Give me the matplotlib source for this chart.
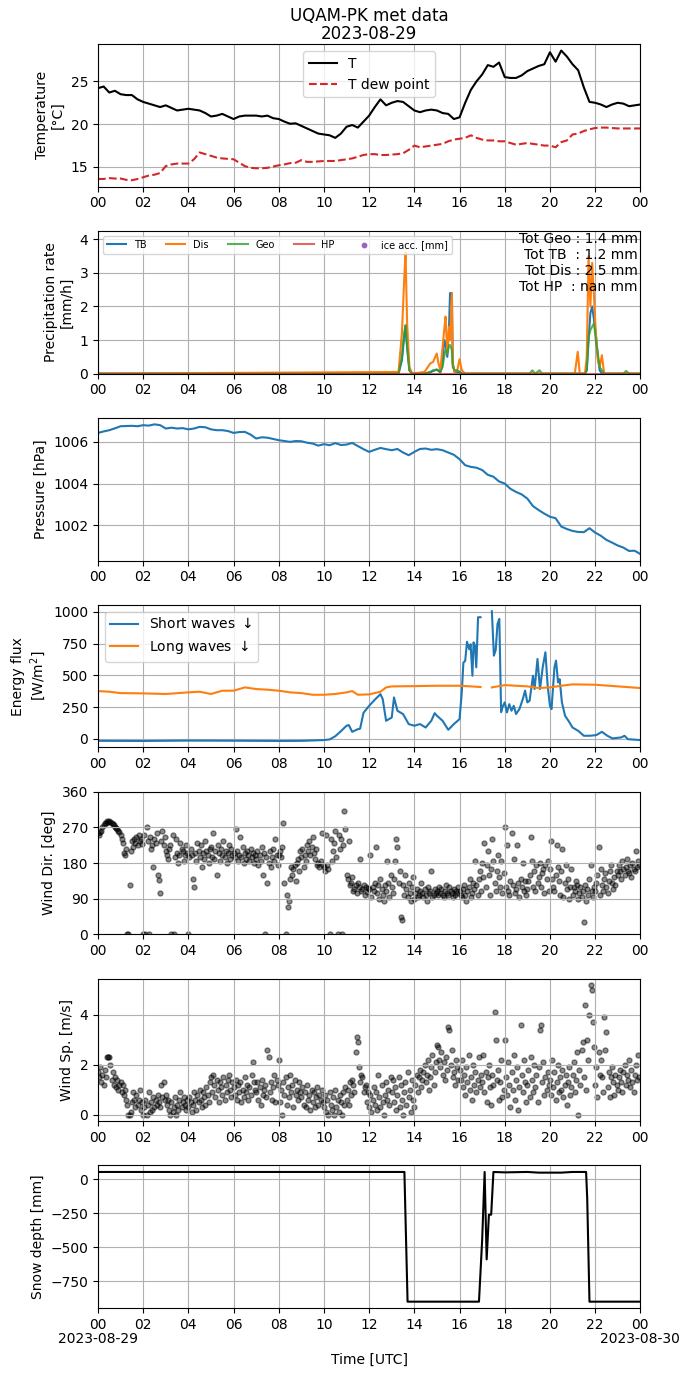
import matplotlib
matplotlib.use("Agg")
import matplotlib.pyplot as plt
import matplotlib.dates as mdates
import numpy as np
import pandas as pd

DAY = pd.Timestamp("2023-08-29")

# temperature / dew point, every 15 min
temp_c = [
    24.2, 24.4, 23.7, 23.9, 23.5, 23.4, 23.4, 22.9, 22.6, 22.4, 22.2, 22.0,
    22.2, 21.9, 21.6, 21.7, 21.8, 21.7, 21.6, 21.3, 20.9, 21.0, 21.2, 20.9,
    20.6, 20.9, 21.0, 21.0, 21.0, 20.9, 21.0, 20.7, 20.6, 20.3, 20.05, 20.1,
    19.8, 19.5, 19.2, 18.9, 18.8, 18.7, 18.4, 18.9, 19.7, 19.9, 19.6, 20.3,
    21.0, 22.0, 22.9, 22.2, 22.5, 22.7, 22.6, 22.1, 21.6, 21.4, 21.6, 21.7,
    21.6, 21.3, 21.2, 20.6, 20.8, 22.5, 24.0, 25.0, 25.8, 26.9, 26.7, 27.2,
    25.5, 25.4, 25.4, 25.7, 26.2, 26.5, 26.8, 27.0, 28.4, 27.3, 28.6, 27.9,
    27.0, 26.3, 24.3, 22.6, 22.5, 22.3, 22.0, 22.3, 22.5, 22.4, 22.1, 22.2,
    22.3,
]
dew_c = [
    13.6, 13.6, 13.7, 13.65, 13.65, 13.5, 13.45, 13.6, 13.8, 14.0, 14.1, 14.3,
    15.1, 15.3, 15.4, 15.4, 15.4, 15.9, 16.7, 16.5, 16.3, 16.1, 16.0, 15.95,
    15.9, 15.5, 15.1, 14.9, 14.85, 14.85, 14.9, 15.05, 15.2, 15.3, 15.45, 15.5,
    15.8, 15.6, 15.6, 15.65, 15.7, 15.7, 15.7, 15.8, 15.9, 16.0, 16.2, 16.4,
    16.5, 16.5, 16.4, 16.4, 16.45, 16.5, 16.6, 17.0, 17.5, 17.3, 17.4, 17.5,
    17.6, 17.7, 18.0, 18.2, 18.3, 18.4, 18.7, 18.4, 18.2, 18.1, 18.1, 18.0,
    18.0, 17.8, 17.6, 17.7, 17.8, 17.7, 17.6, 17.5, 17.5, 17.3, 17.9, 18.1,
    18.8, 18.9, 19.2, 19.4, 19.55, 19.6, 19.6, 19.55, 19.5, 19.5, 19.5, 19.5,
    19.5,
]
pressure_hpa = [
    1006.43, 1006.5, 1006.56, 1006.65, 1006.75, 1006.76, 1006.77, 1006.75,
    1006.8, 1006.78, 1006.84, 1006.8, 1006.64, 1006.68, 1006.64, 1006.66,
    1006.6, 1006.64, 1006.72, 1006.7, 1006.6, 1006.56, 1006.56, 1006.52,
    1006.43, 1006.47, 1006.48, 1006.35, 1006.16, 1006.22, 1006.2, 1006.14,
    1006.08, 1006.04, 1006.0, 1006.04, 1006.03, 1005.96, 1005.92, 1005.82,
    1005.89, 1005.84, 1005.94, 1005.85, 1005.87, 1005.95, 1005.8, 1005.65,
    1005.52, 1005.62, 1005.71, 1005.65, 1005.6, 1005.66, 1005.49, 1005.36,
    1005.52, 1005.66, 1005.68, 1005.62, 1005.65, 1005.6, 1005.49, 1005.38,
    1005.17, 1004.88, 1004.8, 1004.76, 1004.65, 1004.42, 1004.33, 1004.1,
    1004.0, 1003.75, 1003.6, 1003.48, 1003.28, 1002.92, 1002.73, 1002.56,
    1002.41, 1002.34, 1001.94, 1001.82, 1001.73, 1001.68, 1001.67, 1001.86,
    1001.65, 1001.5, 1001.3, 1001.17, 1001.03, 1000.93, 1000.77, 1000.78,
    1000.62,
]

# precipitation rate (mm/h)
precip_hours = [
    0.0, 13.30, 13.45, 13.55, 13.61, 13.68, 13.78, 13.90, 14.45, 14.70,
    14.83, 14.99, 15.07, 15.15, 15.25, 15.32, 15.38, 15.46, 15.54, 15.58,
    15.66, 15.70, 15.78, 15.90, 16.00, 16.10, 16.25, 19.10, 19.22, 19.35,
    19.54, 19.65, 21.10, 21.23, 21.32, 21.55, 21.63, 21.71, 21.79, 21.87,
    21.95, 22.03, 22.12, 22.20, 22.30, 22.40, 23.25, 23.37, 23.50, 24.0,
]
tb = [
    0, 0, 0.4, 1.1, 1.4, 0.8, 0.1, 0, 0, 0.04,
    0.08, 0.12, 0.08, 0.04, 0.3, 1.0, 0.9, 0.5, 1.5, 2.4,
    2.4, 0.3, 0.05, 0.05, 0.05, 0, 0, 0, 0, 0,
    0, 0, 0, 0, 0, 0, 0.1, 1.0, 1.8, 2.0,
    1.6, 1.2, 0.5, 0.1, 0, 0, 0, 0, 0, 0,
]
dis = [
    0, 0.05, 1.2, 2.8, 3.6, 1.5, 0.2, 0, 0.05, 0.3,
    0.35, 0.6, 0.3, 0.1, 0.8, 1.3, 1.7, 0.6, 1.4, 1.0,
    2.4, 0.3, 0.05, 0.1, 0.43, 0.1, 0, 0, 0, 0,
    0, 0, 0, 0.65, 0, 0, 0.5, 3.5, 2.0, 3.3,
    2.3, 1.2, 0.4, 0.2, 0.55, 0, 0, 0, 0, 0,
]
geo = [
    0, 0, 0.5, 1.2, 1.45, 0.8, 0.1, 0, 0, 0.05,
    0.1, 0.12, 0.1, 0.05, 0.2, 0.5, 0.7, 0.6, 0.85, 0.85,
    0.7, 0.2, 0.1, 0.1, 0.05, 0, 0, 0, 0.1, 0,
    0.1, 0, 0, 0, 0, 0, 0.1, 1.1, 1.3, 1.4,
    1.5, 1.0, 0.6, 0.2, 0.1, 0, 0, 0.08, 0, 0,
]
hp = [0.0] * len(precip_hours)
totals_text = "Tot Geo : 1.4 mm\nTot TB  : 1.2 mm\nTot Dis : 2.5 mm\nTot HP  : nan mm"

# radiation (W/m2), nan = missing
sw_hours = [
    0, 2, 4, 6, 8, 9, 10, 10.25, 10.5, 10.75, 11.0, 11.1, 11.25, 11.5, 11.6,
    11.75, 12.0, 12.25, 12.5, 12.6, 12.75, 13.0, 13.1, 13.25, 13.5, 13.75,
    14.0, 14.25, 14.5, 14.75, 14.9, 15.0, 15.25, 15.5, 15.75, 16.0, 16.1,
    16.17, 16.25, 16.33, 16.43, 16.49, 16.57, 16.62, 16.68, 16.74, 16.82,
    16.93, 17.1, 17.43, 17.52, 17.6, 17.68, 17.76, 17.84, 17.9, 18.0, 18.1,
    18.2, 18.3, 18.4, 18.5, 18.65, 18.8, 18.9, 19.0, 19.1, 19.25, 19.32,
    19.45, 19.56, 19.68, 19.8, 19.9, 20.0, 20.07, 20.2, 20.27, 20.36, 20.43,
    20.53, 20.67, 20.82, 21.0, 21.25, 21.5, 21.76, 22.05, 22.3, 22.54, 22.77,
    23.16, 23.3, 23.45, 24.0,
]
sw = [
    -16, -17, -14, -15, -17, -16, -10, -5, 20, 60, 103, 108, 55, 76, 80,
    205, 260, 308, 352, 313, 142, 168, 326, 221, 195, 116,
    103, 116, 89, 142, 202, 182, 142, 71, 116, 155, 366,
    600, 614, 765, 705, 745, 497, 760, 735, 563, 958,
    958, np.nan, 1005, 655, 700, 905, 945, 210, 250, 287, 208,
    273, 221, 260, 195, 234, 313, 380, 287, 300, 497, 392,
    629, 392, 563, 682, 418, 260, 234, 563, 616, 444, 470,
    287, 181, 142, 89, 63, 24, 24, 29, 55, 24, 3,
    11, 24, -3, -10,
]
lw_hours = [
    0, 0.5, 1, 2, 3, 4, 4.5, 5, 5.5, 6, 6.5, 7, 7.5, 8, 8.5, 9, 9.5, 10,
    10.5, 11, 11.25, 11.5, 12, 12.5, 12.75, 13, 14, 15, 16, 16.5, 16.93,
    17.1, 17.43, 18, 19, 19.5, 20, 20.5, 21, 22, 23, 24,
]
lw = [
    376, 371, 360, 358, 353, 366, 371, 353, 379, 379, 405, 392, 387, 379,
    366, 360, 347, 347, 353, 366, 376, 347, 350, 371, 405, 413, 415, 418,
    418, 413, 408, np.nan, 405, 423, 413, 400, 405, 418, 429, 426, 413, 400,
]

# wind, every 3 min (20 values per hour)
wind_dir = [
    255, 250, 258, 262, 270, 275, 280, 282, 285, 283, 286, 284, 280, 278, 275, 272, 268, 265, 262, 258,
    250, 240, 230, 205, 200, 215, 0, 0, 125, 210, 235, 220, 240, 230, 245, 225, 250, 235, 240, 228,
    0, 250, 0, 270, 235, 0, 245, 215, 225, 170, 240, 230, 255, 150, 137, 105, 235, 260, 225, 245,
    210, 200, 190, 215, 225, 0, 250, 0, 195, 240, 205, 180, 200, 230, 215, 210, 185, 200, 225, 205,
    0, 195, 215, 200, 140, 120, 205, 185, 230, 210, 195, 225, 170, 205, 190, 235, 210, 200, 180, 215,
    220, 195, 255, 190, 210, 150, 225, 205, 185, 215, 200, 235, 195, 210, 180, 205, 225, 190, 215, 200,
    205, 195, 265, 210, 185, 200, 245, 195, 220, 180, 205, 190, 210, 200, 185, 215, 195, 205, 180, 200,
    190, 210, 175, 200, 185, 220, 150, 205, 0, 195, 130, 180, 210, 170, 195, 215, 185, 240, 200, 175,
    200, 210, 195, 220, 280, 130, 0, 100, 69, 85, 140, 170, 150, 165, 175, 135, 180, 190, 160, 210,
    195, 215, 170, 200, 185, 225, 210, 235, 200, 220, 245, 205, 190, 215, 175, 180, 170, 185, 255, 175,
    170, 160, 250, 175, 165, 0, 240, 185, 210, 230, 260, 195, 0, 250, 215, 240, 0, 225, 310, 265,
    150, 140, 235, 125, 130, 145, 110, 115, 125, 105, 130, 120, 190, 110, 115, 125, 100, 120, 108, 118,
    115, 200, 95, 120, 110, 130, 220, 105, 125, 90, 140, 115, 100, 85, 125, 110, 185, 130, 95, 150,
    120, 105, 140, 185, 240, 220, 130, 160, 45, 35, 125, 100, 150, 115, 95, 130, 105, 85, 120, 145,
    90, 105, 115, 95, 100, 110, 130, 105, 95, 115, 100, 85, 120, 105, 110, 160, 95, 100, 115, 105,
    110, 100, 120, 105, 115, 100, 95, 110, 125, 105, 100, 120, 110, 105, 95, 115, 100, 110, 105, 120,
    110, 100, 95, 115, 125, 100, 85, 110, 120, 140, 95, 105, 130, 115, 185, 125, 100, 140, 160, 110,
    180, 145, 230, 120, 175, 210, 150, 100, 165, 240, 185, 130, 110, 160, 200, 145, 120, 185, 105, 155,
    270, 120, 225, 110, 100, 135, 255, 125, 190, 105, 115, 225, 130, 95, 140, 120, 180, 110, 135, 100,
    115, 135, 150, 245, 185, 120, 160, 110, 175, 130, 145, 180, 120, 155, 165, 105, 175, 140, 185, 110,
    165, 235, 140, 120, 110, 150, 225, 170, 135, 100, 160, 215, 95, 130, 175, 115, 140, 90, 120, 165,
    100, 120, 110, 135, 125, 90, 105, 120, 95, 110, 30, 125, 85, 115, 100, 140, 175, 110, 95, 120,
    110, 130, 150, 220, 100, 165, 125, 110, 140, 155, 120, 105, 135, 160, 175, 130, 115, 145, 125, 160,
    150, 175, 160, 140, 185, 165, 150, 170, 190, 160, 155, 175, 145, 180, 165, 160, 210, 170, 185, 175,
]
wind_speed = [
    1.7, 1.5, 1.9, 1.3, 1.6, 1.2, 1.8, 1.5, 2.3, 2.3, 2.3, 2.0, 1.4, 1.7, 1.2, 1.5, 1.1, 1.4, 1.0, 1.2,
    1.3, 0.9, 1.2, 0.8, 1.0, 0.6, 0.4, 0.0, 0.0, 0.1, 0.5, 0.9, 0.6, 0.3, 0.8, 0.4, 0.6, 1.0, 0.2, 0.5,
    0.0, 0.3, 0.6, 0.0, 0.4, 0.9, 0.1, 0.5, 0.2, 0.7, 0.3, 0.6, 0.4, 0.8, 0.5, 0.3, 1.2, 0.7, 1.3, 0.6,
    0.8, 0.4, 0.6, 0.2, 0.0, 0.5, 0.1, 0.3, 0.7, 0.0, 0.4, 0.2, 0.6, 0.9, 0.3, 0.5, 0.7, 0.4, 0.2, 0.6,
    0.3, 0.7, 0.5, 0.1, 0.4, 0.9, 0.6, 0.2, 0.8, 0.5, 1.0, 0.6, 0.3, 0.9, 0.7, 0.4, 1.1, 0.8, 0.5, 1.3,
    1.5, 0.9, 1.6, 1.2, 0.7, 1.4, 1.0, 0.5, 1.3, 1.1, 0.8, 1.5, 0.6, 1.2, 0.9, 1.4, 1.6, 1.0, 0.7, 1.3,
    1.1, 0.8, 1.4, 0.6, 1.2, 0.9, 1.3, 0.5, 1.0, 0.7, 1.5, 0.9, 1.2, 0.6, 1.1, 0.8, 1.6, 2.1, 1.3, 1.0,
    0.9, 1.3, 0.6, 1.1, 0.4, 1.4, 0.8, 1.0, 1.2, 0.7, 2.6, 2.3, 0.9, 1.3, 0.6, 1.1, 1.6, 0.5, 1.4, 1.2,
    2.2, 0.5, 1.0, 0.0, 1.3, 0.8, 1.5, 0.4, 1.1, 0.7, 1.6, 0.9, 1.2, 0.3, 1.4, 0.8, 1.0, 0.6, 1.3, 0.9,
    0.7, 1.1, 0.4, 0.9, 0.3, 1.2, 0.6, 0.8, 0.2, 1.0, 0.5, 0.9, 0.3, 0.7, 1.1, 0.4, 0.8, 0.6, 1.0, 0.5,
    0.3, 0.8, 0.1, 0.6, 0.0, 0.9, 0.4, 0.2, 0.7, 0.0, 1.0, 0.3, 0.6, 0.1, 0.8, 0.5, 0.0, 0.9, 0.4, 1.1,
    0.6, 1.0, 0.4, 1.3, 0.8, 1.4, 1.2, 0.9, 2.5, 3.1, 2.9, 1.9, 1.3, 1.6, 1.5, 0.9, 1.1, 1.2, 0.5, 0.9,
    0.3, 0.8, 0.1, 0.6, 1.1, 0.4, 0.9, 0.2, 1.6, 0.7, 0.3, 1.2, 0.5, 0.0, 0.8, 1.3, 0.6, 1.0, 0.4, 1.5,
    0.9, 1.4, 0.5, 1.1, 0.2, 0.8, 1.5, 0.3, 1.2, 0.6, 0.0, 0.9, 1.3, 0.4, 1.7, 0.7, 1.0, 0.1, 1.4, 0.6,
    0.3, 1.2, 1.6, 0.9, 1.5, 1.8, 1.1, 1.4, 1.7, 2.0, 1.3, 1.6, 2.2, 1.0, 1.5, 1.9, 2.4, 1.2, 1.7, 2.1,
    2.8, 2.7, 2.2, 1.9, 2.5, 1.6, 2.1, 1.4, 2.3, 1.8, 3.5, 3.4, 2.0, 2.6, 1.5, 1.7, 1.2, 2.2, 1.9, 1.4,
    1.8, 1.4, 2.2, 1.1, 1.6, 0.8, 1.9, 1.3, 2.4, 1.0, 1.5, 0.6, 2.0, 1.2, 1.7, 0.9, 1.4, 2.3, 1.1, 1.6,
    1.3, 2.4, 0.9, 1.7, 0.5, 1.5, 2.0, 1.1, 0.4, 1.6, 1.2, 4.1, 3.0, 1.4, 1.8, 0.6, 1.3, 2.2, 0.7, 1.0,
    3.0, 1.5, 0.8, 2.1, 1.2, 0.3, 1.7, 1.0, 2.4, 0.6, 1.4, 1.9, 0.2, 1.1, 3.6, 1.6, 0.9, 2.2, 1.3, 0.5,
    1.2, 1.8, 0.7, 2.3, 1.4, 0.9, 2.0, 1.1, 1.6, 0.5, 1.9, 3.4, 3.6, 1.3, 2.1, 0.8, 1.5, 1.0, 1.7, 1.2,
    1.4, 0.8, 2.2, 1.1, 1.7, 0.6, 1.3, 2.0, 0.9, 1.5, 1.0, 1.8, 0.7, 1.2, 1.6, 0.4, 1.3, 1.9, 0.8, 1.1,
    1.6, 2.1, 0.9, 1.4, 2.5, 0.0, 1.8, 1.2, 2.6, 2.9, 1.5, 4.4, 1.0, 3.0, 2.2, 4.0, 5.2, 5.0, 3.7, 2.7,
    1.2, 1.9, 0.7, 2.5, 1.6, 2.2, 1.5, 0.9, 3.9, 2.6, 3.3, 1.1, 1.7, 0.7, 1.5, 1.9, 1.3, 0.8, 1.6, 1.2,
    1.0, 1.5, 1.8, 1.3, 0.9, 1.7, 2.0, 1.2, 1.6, 1.4, 2.2, 1.1, 1.8, 1.3, 0.9, 1.6, 2.0, 1.4, 2.4, 1.5,
]

# snow depth (mm)
snow_hours = [0, 13.56, 13.7, 16.86, 17.0, 17.11, 17.2, 17.3, 17.4, 17.5, 18.0,
              19.0, 19.5, 20.5, 21.0, 21.6, 21.65, 21.75, 24]
snow_mm = [55, 55, -902, -902, -450, 55, -590, -260, -260, 55, 52,
           55, 50, 50, 55, 55, -141, -902, -902]

date_labels = ["2023-08-29", "2023-08-30"]


def hours_to_time(hours):
    return DAY + pd.to_timedelta(np.asarray(hours, dtype=float), unit="h")


t15 = hours_to_time(np.arange(len(temp_c)) * 0.25)
t_wind = hours_to_time(np.arange(len(wind_dir)) * 0.05)
t_end = DAY + pd.Timedelta(hours=24)

fig, axes = plt.subplots(7, 1, figsize=(6.9, 13.77))
fig.subplots_adjust(left=0.142, right=0.928, top=0.968, bottom=0.05, hspace=0.31)

ax = axes[0]
ax.plot(t15, temp_c, color="k", label="T")
ax.plot(t15, dew_c, color="tab:red", ls="--", label="T dew point")
ax.set_ylabel("Temperature\n[°C]")
ax.legend(loc="upper center")
ax.set_title("UQAM-PK met data\n2023-08-29", linespacing=0.95, pad=4)

ax = axes[1]
tp = hours_to_time(precip_hours)
ax.plot(tp, tb, color="tab:blue", label="TB")
ax.plot(tp, dis, color="tab:orange", label="Dis")
ax.plot(tp, geo, color="tab:green", alpha=0.8, label="Geo")
ax.plot(tp, hp, color="tab:red", alpha=0.7, label="HP")
ax.scatter([], [], s=10, color="tab:purple", label="ice acc. [mm]")
ax.set_ylim(0, 4.25)
ax.set_ylabel("Precipitation rate\n[mm/h]")
ax.legend(loc="upper left", ncol=5, fontsize=7)
ax.text(0.995, 0.995, totals_text, transform=ax.transAxes, ha="right", va="top",
        multialignment="right")

ax = axes[2]
ax.plot(t15, pressure_hpa, color="tab:blue")
ax.set_ylabel("Pressure [hPa]")

ax = axes[3]
ax.plot(hours_to_time(sw_hours), sw, color="tab:blue", label="Short waves $\\downarrow$")
ax.plot(hours_to_time(lw_hours), lw, color="tab:orange", label="Long waves $\\downarrow$")
ax.set_ylabel("Energy flux\n[W/m$^2$]")
ax.legend(loc="upper left")

ax = axes[4]
ax.scatter(t_wind, wind_dir, s=13, color="k", alpha=0.45)
ax.set_ylim(0, 360)
ax.set_yticks([0, 90, 180, 270, 360])
ax.set_ylabel("Wind Dir. [deg]")

ax = axes[5]
ax.scatter(t_wind, wind_speed, s=13, color="k", alpha=0.45)
ax.set_ylabel("Wind Sp. [m/s]")

ax = axes[6]
ax.plot(hours_to_time(snow_hours), snow_mm, color="k")
ax.set_ylabel("Snow depth [mm]")
ax.set_xlabel("Time [UTC]")
ax.xaxis.set_label_coords(0.5, -0.31)
for when, lab in zip([DAY, t_end], date_labels):
    ax.annotate(lab, xy=(mdates.date2num(when), 0), xycoords=("data", "axes fraction"),
                xytext=(0, -22.5), textcoords="offset points", ha="center", va="center")

for ax in axes:
    ax.set_xlim(DAY, t_end)
    ax.xaxis.set_major_locator(mdates.HourLocator(byhour=range(0, 24, 2)))
    ax.xaxis.set_major_formatter(mdates.DateFormatter("%H"))
    ax.grid(True)

fig.savefig("out.png", dpi=100)
